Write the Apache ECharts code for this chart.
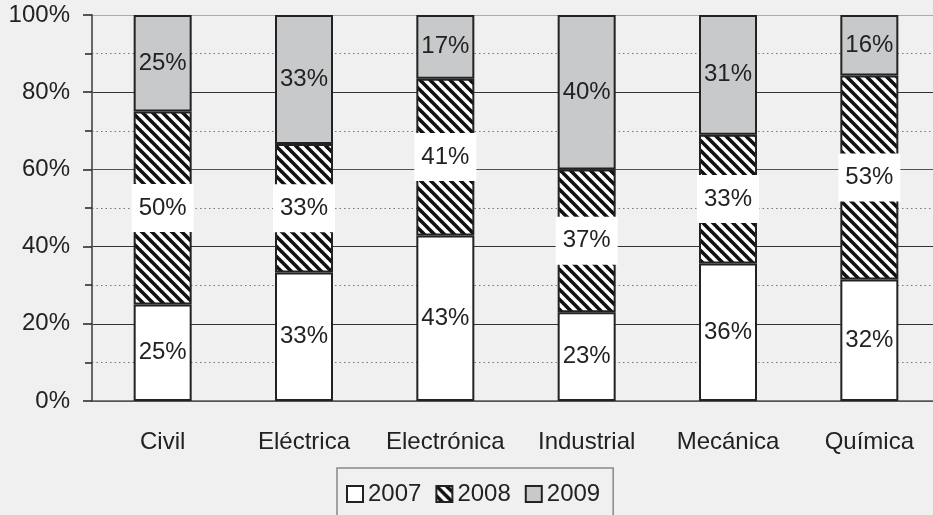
<!DOCTYPE html>
<html>
<head>
<meta charset="utf-8">
<script src="https://cdn.jsdelivr.net/npm/echarts@6/dist/echarts.min.js"></script>
<style>
html,body{margin:0;padding:0;background:#eff0ef;overflow:hidden;}
#c{width:940px;height:515px;}
</style>
</head>
<body>
<div id="c"></div>
<script>
var categories = ['Civil', 'Eléctrica', 'Electrónica', 'Industrial', 'Mecánica', 'Química'];
var s2007 = [25, 33.3, 42.9, 23, 35.6, 31.5];
var s2008 = [50, 33.3, 40.6, 37, 33.4, 52.8];
var s2009 = [25, 33.4, 16.5, 40, 31.0, 15.7];
var seriesNames = ['2007', '2008', '2009'];
var yTicks = [0, 20, 40, 60, 80, 100];

var FONT = '"Liberation Sans", Arial, sans-serif';

// diagonal hatch pattern
var pc = document.createElement('canvas');
pc.width = 10; pc.height = 10;
var g = pc.getContext('2d');
g.fillStyle = '#ffffff';
g.fillRect(0, 0, 10, 10);
g.strokeStyle = '#111111';
g.lineWidth = 3.6;
g.lineCap = 'square';
[-10, 0, 10].forEach(function (x0) {
  g.beginPath();
  g.moveTo(x0, 0);
  g.lineTo(x0 + 10, 10);
  g.stroke();
});

var chart = echarts.init(document.getElementById('c'), null, {renderer: 'canvas'});

function lbl(extra) {
  var o = {
    show: true,
    position: 'inside',
    fontFamily: FONT,
    fontSize: 24,
    color: '#222',
    formatter: function (p) { return Math.round(p.value) + '%'; }
  };
  if (extra) for (var k in extra) o[k] = extra[k];
  return o;
}

chart.setOption({
  backgroundColor: '#eff0ef',
  animation: false,
  grid: {left: 92, right: 0, top: 15, bottom: 114, containLabel: false},
  legend: {
    data: seriesNames,
    left: 337,
    top: 468,
    padding: [14, 13, 20, 9],
    itemGap: 14,
    itemWidth: 16,
    itemHeight: 16,
    itemStyle: {borderColor: '#222', borderWidth: 2},
    borderColor: '#888',
    borderWidth: 1.5,
    textStyle: {fontFamily: FONT, fontSize: 24, color: '#222'},
    icon: 'rect'
  },
  xAxis: {
    type: 'category',
    data: categories,
    axisTick: {show: false},
    axisLine: {show: true, lineStyle: {color: '#555', width: 1.5}},
    axisLabel: {fontFamily: FONT, fontSize: 24, color: '#222', margin: 29, interval: 0},
    splitLine: {show: false}
  },
  yAxis: {
    type: 'value',
    min: yTicks[0],
    max: yTicks[yTicks.length - 1],
    interval: 20,
    axisLine: {show: true, lineStyle: {color: '#666', width: 2}},
    axisTick: {show: true, length: 9, lineStyle: {color: '#222', width: 1.5}},
    minorTick: {show: true, splitNumber: 2, length: 7, lineStyle: {color: '#222', width: 1.5}},
    axisLabel: {fontFamily: FONT, fontSize: 24, color: '#222', margin: 22,
      formatter: function (v) { return v + '%'; }},
    splitLine: {show: true, lineStyle: {color: ['#555', '#333', '#333', '#555', '#333', '#aaa'], width: 1.2}},
    minorSplitLine: {show: true, lineStyle: {color: '#777', width: 1, type: [1.5, 3]}}
  },
  series: [
    {
      name: seriesNames[0], type: 'bar', stack: 'a', barWidth: 58,
      data: s2007,
      itemStyle: {color: '#ffffff', borderColor: '#222', borderWidth: 2},
      label: lbl()
    },
    {
      name: seriesNames[1], type: 'bar', stack: 'a', barWidth: 58,
      data: s2008,
      itemStyle: {color: {image: pc, repeat: 'repeat'}, borderColor: '#222', borderWidth: 2},
      label: lbl({backgroundColor: '#ffffff', padding: [12, 7, 12, 7]})
    },
    {
      name: seriesNames[2], type: 'bar', stack: 'a', barWidth: 58,
      data: s2009,
      itemStyle: {color: '#c8c9ca', borderColor: '#222', borderWidth: 2},
      label: lbl()
    }
  ]
});
</script>
</body>
</html>
